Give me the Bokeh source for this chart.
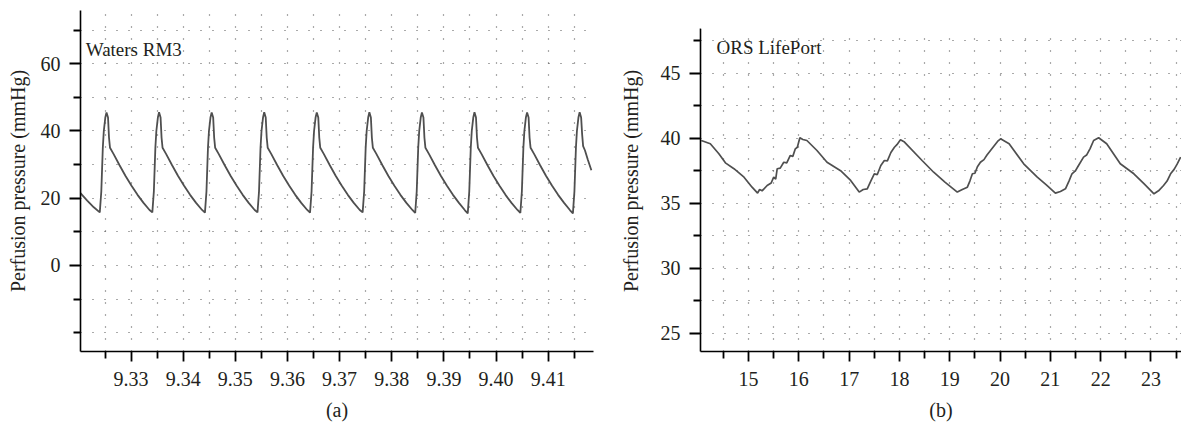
from bokeh.plotting import figure
from bokeh.layouts import row
from bokeh.models import FixedTicker, PrintfTickFormatter, Label, Range1d, BoxAnnotation
from bokeh.embed import file_html
from bokeh.resources import INLINE

# ---------------- data: panel (a) Waters RM3 ----------------
a_title = "Waters RM3"
a_x = [
    9.32030, 9.32159, 9.32285,
    9.32400, 9.32429, 9.32458, 9.32477, 9.32506, 9.32529, 9.32558, 9.32577, 9.32596, 9.32663, 9.32779, 9.32894, 9.33009, 9.33124, 9.33239, 9.33354,
    9.33408, 9.33437, 9.33466, 9.33485, 9.33514, 9.33537, 9.33566, 9.33585, 9.33604, 9.33671, 9.33787, 9.33902, 9.34017, 9.34132, 9.34247, 9.34362,
    9.34417, 9.34446, 9.34475, 9.34494, 9.34523, 9.34546, 9.34575, 9.34594, 9.34613, 9.34680, 9.34796, 9.34911, 9.35026, 9.35141, 9.35256, 9.35371,
    9.35425, 9.35454, 9.35483, 9.35502, 9.35531, 9.35554, 9.35583, 9.35602, 9.35621, 9.35688, 9.35804, 9.35919, 9.36034, 9.36149, 9.36264, 9.36379,
    9.36433, 9.36462, 9.36491, 9.36510, 9.36539, 9.36562, 9.36591, 9.36610, 9.36629, 9.36696, 9.36812, 9.36927, 9.37042, 9.37157, 9.37272, 9.37387,
    9.37442, 9.37471, 9.37500, 9.37519, 9.37548, 9.37571, 9.37600, 9.37619, 9.37638, 9.37705, 9.37821, 9.37936, 9.38051, 9.38166, 9.38281, 9.38396,
    9.38450, 9.38479, 9.38508, 9.38527, 9.38556, 9.38579, 9.38608, 9.38627, 9.38646, 9.38713, 9.38829, 9.38944, 9.39059, 9.39174, 9.39289, 9.39404,
    9.39458, 9.39487, 9.39516, 9.39535, 9.39564, 9.39587, 9.39616, 9.39635, 9.39654, 9.39721, 9.39837, 9.39952, 9.40067, 9.40182, 9.40297, 9.40412,
    9.40467, 9.40496, 9.40525, 9.40544, 9.40573, 9.40596, 9.40625, 9.40644, 9.40663, 9.40730, 9.40846, 9.40961, 9.41076, 9.41191, 9.41306, 9.41421,
    9.41475, 9.41504, 9.41533, 9.41552, 9.41581, 9.41604, 9.41633, 9.41652, 9.41671, 9.41707, 9.41760, 9.41829,
]
a_y = [
    21.5, 19.3, 17.3,
    15.8, 22, 35, 40, 44, 45.5, 44, 38, 35, 33.2, 29.8, 26.6, 23.7, 21.0, 18.6, 16.5,
    15.8, 22, 35, 40, 44, 45.6, 44, 38, 35, 33.2, 29.8, 26.6, 23.7, 21.0, 18.6, 16.5,
    15.7, 22, 35, 40, 44, 45.5, 44, 38, 35, 33.2, 29.8, 26.6, 23.7, 21.0, 18.6, 16.5,
    15.8, 22, 35, 40, 44, 45.6, 44, 38, 35, 33.2, 29.8, 26.6, 23.7, 21.0, 18.6, 16.5,
    15.7, 22, 35, 40, 44, 45.5, 44, 38, 35, 33.2, 29.8, 26.6, 23.7, 21.0, 18.6, 16.5,
    15.8, 22, 35, 40, 44, 45.6, 44, 38, 35, 33.2, 29.8, 26.6, 23.7, 21.0, 18.6, 16.5,
    15.6, 22, 35, 40, 44, 45.5, 44, 38, 35, 33.2, 29.8, 26.6, 23.7, 21.0, 18.6, 16.4,
    15.5, 22, 35, 40, 44, 45.6, 44, 38, 35, 33.2, 29.8, 26.6, 23.7, 21.0, 18.6, 16.5,
    15.6, 22, 35, 40, 44, 45.5, 44, 38, 35, 33.2, 29.8, 26.6, 23.7, 21.0, 18.6, 16.4,
    15.5, 22, 35, 40, 44, 45.6, 44, 39, 35.5, 34.2, 31.5, 28.3,
]
a_xticks = [9.33, 9.34, 9.35, 9.36, 9.37, 9.38, 9.39, 9.40, 9.41]
a_xminor = [9.325, 9.335, 9.345, 9.355, 9.365, 9.375, 9.385, 9.395, 9.405, 9.415]
a_yticks = [0, 20, 40, 60]
a_yminor = [-20, -10, 10, 30, 50, 70]

# ---------------- data: panel (b) ORS LifePort ----------------
b_title = "ORS LifePort"
b_x = [
    14.06, 14.24, 14.41, 14.54, 14.71, 14.91, 15.07, 15.18, 15.22, 15.27, 15.37, 15.45, 15.50, 15.54,
    15.57, 15.63, 15.70, 15.76, 15.83, 15.88, 15.93, 15.97, 16.02, 16.08, 16.16, 16.36, 16.56, 16.83,
    17.03, 17.20, 17.28, 17.36, 17.43, 17.50, 17.56, 17.63, 17.70, 17.76, 17.83, 17.90, 17.95, 18.02,
    18.10, 18.45, 18.68, 18.91, 19.15, 19.25, 19.35, 19.40, 19.45, 19.50, 19.55, 19.61, 19.68, 19.74,
    19.81, 19.88, 19.95, 20.01, 20.18, 20.47, 20.74, 20.92, 21.10, 21.20, 21.30, 21.37, 21.43, 21.50,
    21.56, 21.66, 21.72, 21.79, 21.86, 21.96, 22.12, 22.39, 22.66, 22.86, 23.06, 23.15, 23.25, 23.32,
    23.39, 23.46, 23.52, 23.59,
]
b_y = [
    39.82, 39.57, 38.80, 38.10, 37.65, 37.00, 36.23, 35.77, 36.05, 35.95, 36.36, 36.55, 37.00, 36.85,
    37.65, 37.70, 38.15, 38.10, 38.67, 38.60, 39.18, 39.30, 40.03, 39.90, 39.82, 39.05, 38.15, 37.50,
    36.75, 35.85, 36.05, 36.10, 36.70, 37.25, 37.20, 37.90, 38.28, 38.25, 38.90, 39.30, 39.50, 39.87,
    39.70, 38.28, 37.38, 36.60, 35.85, 36.05, 36.23, 36.70, 37.26, 37.30, 37.80, 38.15, 38.35, 38.70,
    39.05, 39.40, 39.75, 39.95, 39.57, 38.03, 37.00, 36.40, 35.77, 35.90, 36.10, 36.70, 37.26, 37.50,
    37.90, 38.54, 38.70, 39.20, 39.82, 40.03, 39.57, 38.03, 37.26, 36.50, 35.72, 35.95, 36.36, 36.70,
    37.26, 37.60, 38.00, 38.54,
]
b_xticks = [15, 16, 17, 18, 19, 20, 21, 22, 23]
b_xminor = [14.5, 15.5, 16.5, 17.5, 18.5, 19.5, 20.5, 21.5, 22.5, 23.5]
b_yticks = [25, 30, 35, 40, 45]
b_yminor = [27.5, 32.5, 37.5, 42.5, 47.5]
b_ytop = 48.44

y_label = "Perfusion pressure (mmHg)"

FONT = "Liberation Serif"
TXT = "#231f20"
LINE = "#4f4f4f"
DOT = "#555555"
FS = "20px"


def style(p, xt, xm, yt, ym, xlab, ylab_standoff):
    p.outline_line_color = None
    p.background_fill_color = "white"
    p.border_fill_color = "white"
    p.xaxis.ticker = FixedTicker(ticks=xt, minor_ticks=xm)
    p.yaxis.ticker = FixedTicker(ticks=yt, minor_ticks=ym)
    for ax in (p.xaxis[0], p.yaxis[0]):
        ax.axis_line_color = "black"
        ax.axis_line_width = 1.6
        ax.major_tick_line_color = "black"
        ax.major_tick_line_width = 1.8
        ax.minor_tick_line_color = "black"
        ax.minor_tick_line_width = 1.8
        ax.major_tick_in = 0
        ax.minor_tick_in = 0
        ax.minor_tick_out = 7
        ax.major_label_text_font = FONT
        ax.major_label_text_font_size = FS
        ax.major_label_text_color = TXT
        ax.axis_label_text_font = FONT
        ax.axis_label_text_font_size = FS
        ax.axis_label_text_font_style = "normal"
        ax.axis_label_text_color = TXT
    p.xaxis.major_tick_out = 10
    p.yaxis.major_tick_out = 11
    p.xaxis.major_label_standoff = 10
    p.yaxis.major_label_standoff = 9
    p.xaxis.axis_label = xlab
    p.xaxis.axis_label_standoff = 10
    p.yaxis.axis_label = y_label
    p.yaxis.axis_label_standoff = ylab_standoff
    for g in (p.xgrid[0], p.ygrid[0]):
        g.grid_line_color = DOT
        g.grid_line_dash = "1 11"
        g.grid_line_width = 1.2
        g.minor_grid_line_color = DOT
        g.minor_grid_line_dash = "1 11"
        g.minor_grid_line_width = 1.2


# both frames span y = 10 .. 351; panel (a) frame x = 80 .. 593, panel (b) frame x = 700 .. 1181
pa = figure(width=600, height=428, title=None,
            x_range=Range1d(9.3203, 9.4187), y_range=Range1d(-25.62, 75.86),
            min_border_left=80, min_border_right=7, min_border_top=10, min_border_bottom=77,
            toolbar_location=None, output_backend="svg")
style(pa, a_xticks, a_xminor, a_yticks, a_yminor, "(a)", 9)
pa.xaxis.formatter = PrintfTickFormatter(format="%.2f")
pa.line(a_x, a_y, line_color=LINE, line_width=1.8)
pa.add_layout(Label(x=9.3213, y=64.3, text=a_title, text_font=FONT, text_font_size="19px",
                    text_color=TXT, text_baseline="alphabetic", text_align="left"))

pb = figure(width=581, height=428, title=None,
            x_range=Range1d(14.045, 23.607), y_range=Range1d(23.59, 49.82),
            min_border_left=100, min_border_right=0, min_border_top=10, min_border_bottom=77,
            toolbar_location=None, output_backend="svg")
style(pb, b_xticks, b_xminor, b_yticks, b_yminor, "(b)", 16)
pb.yaxis.bounds = (23.59, b_ytop)
pb.line(b_x, b_y, line_color=LINE, line_width=1.7)
pb.add_layout(BoxAnnotation(bottom=b_ytop, fill_color="white", fill_alpha=1.0, line_color=None))
pb.add_layout(Label(x=14.363, y=46.98, text=b_title, text_font=FONT, text_font_size="19px",
                    text_color=TXT, text_baseline="alphabetic", text_align="left"))

layout = row(pa, pb)
open("out.html", "w").write(file_html(layout, INLINE))
